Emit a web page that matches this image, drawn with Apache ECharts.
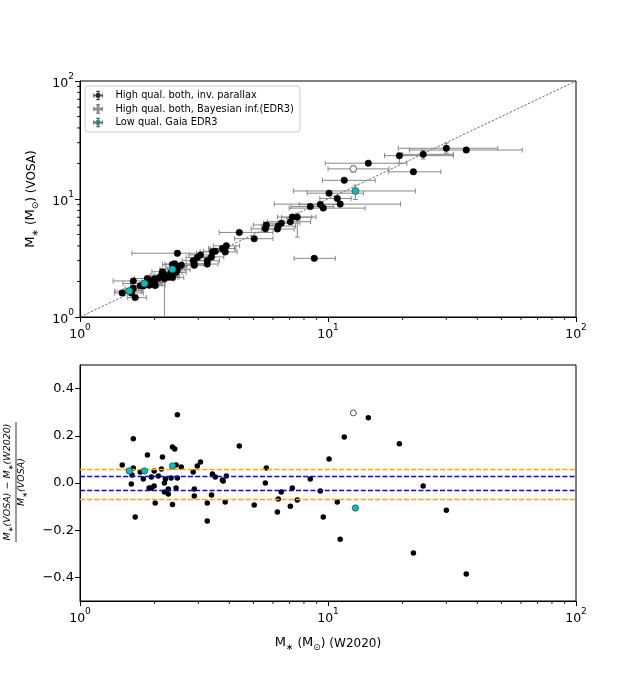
<!DOCTYPE html>
<html>
<head>
<meta charset="utf-8">
<script src="https://cdn.jsdelivr.net/npm/echarts@6/dist/echarts.min.js"></script>
<style>
html, body { margin: 0; padding: 0; background: #fff; }
#chart { width: 640px; height: 675px; }
</style>
</head>
<body>
<div id="chart"></div>
<script>
// High qual. both, inv. parallax
var hqW2020 = [1.48, 1.61, 1.62, 1.64, 1.64, 1.67, 1.75, 1.80, 1.87, 1.90,
    1.94, 1.94, 1.99, 1.99, 2.01, 2.07, 2.13, 2.15, 2.19, 2.19,
    2.21, 2.27, 2.27, 2.33, 2.36, 2.36, 2.41, 2.44, 2.44, 2.47,
    2.47, 2.56, 2.86, 2.89, 2.89, 2.97, 3.06, 3.26, 3.26, 3.39,
    3.42, 3.51, 3.75, 3.78, 3.85, 3.89, 4.39, 5.04, 5.59, 5.64,
    6.25, 6.30, 6.48, 7.05, 7.18, 7.52, 8.48, 8.80, 9.31, 9.57,
    10.1, 10.9, 11.2, 11.63, 14.54, 19.4, 22.1, 24.2, 30.0, 36.1];
var hqVOSA = [1.60, 1.60, 1.68, 2.02, 1.75, 1.46, 1.84, 1.83, 2.12, 1.86,
    1.99, 1.90, 2.10, 1.96, 1.85, 2.13, 2.26, 2.42, 2.19, 2.11,
    2.25, 2.21, 2.17, 2.38, 2.79, 2.16, 2.82, 2.64, 2.39, 3.47,
    2.52, 2.75, 3.00, 2.82, 2.74, 3.20, 3.36, 3.00, 2.81, 3.23,
    3.56, 3.60, 3.80, 3.81, 3.56, 4.01, 5.21, 4.61, 5.59, 6.03,
    5.57, 5.90, 6.24, 6.42, 7.03, 7.01, 8.63, 3.14, 9.00, 8.37,
    11.2, 10.1, 9.05, 14.4, 20.1, 23.3, 17.0, 23.9, 26.9, 26.0];
var hqRel = [0.076, -0.004, 0.034, 0.187, 0.064, -0.144, 0.047, 0.017, 0.119, -0.021,
    0.025, -0.021, 0.051, -0.013, -0.085, 0.030, 0.059, 0.110, 0.000, -0.038,
    0.017, -0.025, -0.047, 0.021, 0.153, -0.091, 0.144, 0.076, -0.021, 0.289,
    0.021, 0.068, 0.047, -0.025, -0.055, 0.072, 0.089, -0.085, -0.161, -0.051,
    0.038, 0.025, 0.013, 0.008, -0.081, 0.030, 0.157, -0.093, 0.000, 0.064,
    -0.123, -0.068, -0.038, -0.098, -0.021, -0.072, 0.017, -1.80, -0.034, -0.144,
    0.102, -0.081, -0.238, 0.195, 0.276, 0.166, -0.297, -0.013, -0.115, -0.386];
var hqXLo = [1.38, 1.45, 1.50, 1.36, 1.52, 1.55, 1.60, 1.62, 1.66, 1.74,
    1.78, 1.76, 1.82, 1.80, 1.84, 1.86, 1.92, 1.95, 1.98, 2.00,
    2.00, 2.05, 2.08, 2.10, 2.15, 2.12, 2.20, 2.22, 2.20, 1.62,
    2.25, 2.32, 2.58, 2.60, 2.55, 2.68, 2.75, 2.92, 2.95, 3.00,
    3.05, 3.15, 3.35, 3.30, 3.45, 3.45, 3.64, 4.20, 4.90, 5.00,
    5.40, 5.40, 5.50, 5.70, 6.26, 6.50, 7.10, 7.30, 7.65, 6.97,
    8.25, 9.27, 6.07, 9.50, 9.75, 16.9, 17.5, 20.0, 19.2, 21.3];
var hqXHi = [1.62, 1.80, 1.78, 1.83, 1.78, 1.85, 1.95, 2.00, 2.10, 2.08,
    2.12, 2.14, 2.18, 2.20, 2.20, 2.30, 2.36, 2.38, 2.42, 2.40,
    2.45, 2.52, 2.48, 2.58, 2.60, 2.62, 2.68, 2.70, 2.68, 2.95,
    2.78, 2.85, 3.20, 3.22, 3.25, 3.30, 3.42, 3.65, 3.60, 3.80,
    3.85, 3.95, 4.25, 4.20, 4.30, 4.40, 6.00, 6.00, 6.40, 6.40,
    7.30, 7.40, 7.70, 8.50, 8.94, 8.60, 10.5, 10.7, 11.2, 14.1,
    13.9, 12.4, 19.6, 15.5, 20.8, 32.0, 28.5, 32.0, 48.4, 60.7];
var hqYLo = [1.55, 1.55, 1.62, 1.95, 1.70, 1.41, 1.78, 1.77, 2.05, 1.80,
    1.93, 1.84, 2.03, 1.90, 1.79, 2.06, 2.19, 2.34, 0.40, 2.04,
    2.18, 2.14, 2.10, 2.30, 2.70, 2.09, 2.73, 2.55, 2.31, 3.30,
    2.44, 2.66, 2.90, 2.73, 2.65, 3.10, 3.25, 2.90, 2.72, 3.12,
    3.45, 3.48, 3.68, 3.69, 3.45, 3.88, 5.00, 4.45, 5.40, 5.83,
    5.38, 5.70, 6.03, 6.20, 6.80, 4.76, 8.35, 3.04, 8.70, 8.10,
    10.8, 9.75, 8.75, 13.9, 19.4, 20.1, 16.4, 21.8, 24.4, 25.1];
var hqYHi = [1.65, 1.65, 1.74, 2.09, 1.80, 1.51, 1.90, 1.89, 2.19, 1.92,
    2.05, 1.96, 2.17, 2.02, 1.91, 2.20, 2.33, 2.50, 2.26, 2.18,
    2.32, 2.28, 2.24, 2.46, 2.88, 2.23, 2.91, 2.73, 2.47, 3.60,
    2.60, 2.84, 3.10, 2.91, 2.83, 3.30, 3.47, 3.10, 2.90, 3.34,
    3.67, 3.72, 3.92, 3.93, 3.67, 4.14, 5.42, 4.77, 5.78, 6.23,
    5.76, 6.10, 6.45, 6.64, 7.26, 7.60, 8.91, 3.24, 9.30, 8.64,
    11.6, 10.45, 9.35, 14.9, 20.8, 24.4, 17.6, 25.9, 29.7, 26.9];

// High qual. both, Bayesian inf.(EDR3)
var bayW2020 = [12.65];
var bayVOSA = [18.0];
var bayRel = [0.297];
var bayXLo = [10.0];
var bayXHi = [17.6];
var bayYLo = [16.9];
var bayYHi = [19.0];

// Low qual. Gaia EDR3
var lqW2020 = [1.58, 1.82, 2.36, 12.9];
var lqVOSA = [1.66, 1.92, 2.54, 11.7];
var lqRel = [0.051, 0.051, 0.072, -0.106];
var lqXLo = [1.38, 1.49, 2.10, 7.25];
var lqXHi = [1.77, 2.15, 2.65, 22.5];
var lqYLo = [1.61, 1.86, 2.46, 9.9];
var lqYHi = [1.71, 1.98, 2.62, 13.1];

// reference levels in the lower panel
var orangeLevels = [0.058, -0.068];
var blueLevels = [0.033, -0.031];

var relTicks = [-0.4, -0.2, 0.0, 0.2, 0.4];
var minorLog = [2, 3, 4, 5, 6, 7, 8, 9, 20, 30, 40, 50, 60, 70, 80, 90];

var FONT = 'DejaVu Sans';
var names = ['High qual. both, inv. parallax', 'High qual. both, Bayesian inf.(EDR3)', 'Low qual. Gaia EDR3'];

function pairs(a, b) {
    return a.map(function (v, i) { return [v, b[i]]; });
}
function bars(w, v, xlo, xhi, ylo, yhi) {
    return w.map(function (x, i) { return [x, v[i], xlo[i], xhi[i], ylo[i], yhi[i]]; });
}

function renderErr(params, api) {
    var x = api.value(0), y = api.value(1);
    var p = api.coord([x, y]);
    var l = api.coord([api.value(2), y]);
    var r = api.coord([api.value(3), y]);
    var b = api.coord([x, api.value(4)]);
    var t = api.coord([x, api.value(5)]);
    var c = 2.5;
    var st = { stroke: '#888888', lineWidth: 1 };
    return {
        type: 'group',
        children: [
            { type: 'line', shape: { x1: l[0], y1: p[1], x2: r[0], y2: p[1] }, style: st },
            { type: 'line', shape: { x1: l[0], y1: p[1] - c, x2: l[0], y2: p[1] + c }, style: st },
            { type: 'line', shape: { x1: r[0], y1: p[1] - c, x2: r[0], y2: p[1] + c }, style: st },
            { type: 'line', shape: { x1: p[0], y1: b[1], x2: p[0], y2: t[1] }, style: st },
            { type: 'line', shape: { x1: p[0] - c, y1: b[1], x2: p[0] + c, y2: b[1] }, style: st },
            { type: 'line', shape: { x1: p[0] - c, y1: t[1], x2: p[0] + c, y2: t[1] }, style: st }
        ]
    };
}

function minorX(base) {
    return function (params, api) {
        var p = api.coord([api.value(0), base]);
        return { type: 'line', shape: { x1: p[0], y1: p[1], x2: p[0], y2: p[1] + 2.8 }, style: { stroke: '#000', lineWidth: 1 } };
    };
}
function minorY(base) {
    return function (params, api) {
        var p = api.coord([base, api.value(1)]);
        return { type: 'line', shape: { x1: p[0], y1: p[1], x2: p[0] - 2.8, y2: p[1] }, style: { stroke: '#000', lineWidth: 1 } };
    };
}

function errSeries(data, gi) {
    return {
        type: 'custom', xAxisIndex: gi, yAxisIndex: gi, data: data,
        renderItem: renderErr, clip: true, silent: true, z: 2,
        encode: { x: 0, y: 1 }
    };
}

var powLabel = {
    formatter: function (v) {
        return '{b|10}{s|' + Math.round(Math.log10(v)) + '}';
    },
    rich: {
        b: { fontFamily: FONT, fontSize: 12.5, color: '#000', lineHeight: 18, verticalAlign: 'bottom' },
        s: { fontFamily: FONT, fontSize: 9, color: '#000', lineHeight: 10, verticalAlign: 'top' }
    }
};

var nameRich = {
    m: { fontFamily: FONT, fontSize: 13, color: '#000', lineHeight: 16, verticalAlign: 'top' },
    u: { fontFamily: FONT, fontSize: 9, color: '#000', lineHeight: 10, verticalAlign: 'bottom' }
};

var axisCommon = {
    axisLine: { show: true, onZero: false, lineStyle: { color: '#000', width: 1 } },
    axisTick: { show: true, length: 5, lineStyle: { color: '#000', width: 1 } },
    splitLine: { show: false }
};

// marker with small error bar cross, for the legend (leading move-to keeps it off the left edge)
var errIcon = 'path://M-16,10 M4.5,10A5.5,5.5 0 1,1 15.5,10A5.5,5.5 0 1,1 4.5,10Z M0,9.3H20V10.7H0Z M9.3,0H10.7V20H9.3Z ' +
    'M0,6H1.4V14H0Z M18.6,6H20V14H18.6Z M6,0H14V1.4H6Z M6,18.6H14V20H6Z';
var legendStyles = [
    { color: '#000', borderColor: '#555', borderWidth: 0.4 },
    { color: '#fff', borderColor: '#777', borderWidth: 0.8 },
    { color: '#00bfbf', borderColor: '#555', borderWidth: 0.5 }
];

var chart = echarts.init(document.getElementById('chart'));
var option = {
    animation: false,
    textStyle: { fontFamily: FONT },
    grid: [
        { left: 80, right: 64, top: 81, height: 236, show: true, borderColor: '#000', borderWidth: 1 },
        { left: 80, right: 64, top: 365, height: 236, show: true, borderColor: '#000', borderWidth: 1 }
    ],
    legend: {
        left: 85, top: 86,
        orient: 'vertical',
        data: names.map(function (n, i) { return { name: n, icon: errIcon, itemStyle: legendStyles[i] }; }),
        itemWidth: 24, itemHeight: 9, itemGap: 2.5,
        symbolKeepAspect: true,
        padding: [4, 6, 4, 1],
        backgroundColor: 'rgba(255,255,255,0.8)',
        borderColor: '#cccccc', borderWidth: 1, borderRadius: 3,
        textStyle: { fontFamily: FONT, fontSize: 9.8, color: '#000', lineHeight: 11, padding: [0, 0, 0, 4] }
    },
    xAxis: [
        Object.assign({ gridIndex: 0, type: 'log', logBase: 10, min: 1, max: 100,
            axisLabel: Object.assign({ margin: 6 }, powLabel) }, axisCommon),
        Object.assign({ gridIndex: 1, type: 'log', logBase: 10, min: 1, max: 100,
            axisLabel: Object.assign({ margin: 6 }, powLabel),
            name: '{m|M}{u|∗} ({m|M}{u|⊙}) (W2020)', nameLocation: 'middle', nameGap: 35,
            nameTextStyle: { rich: nameRich } }, axisCommon)
    ],
    yAxis: [
        Object.assign({ gridIndex: 0, type: 'log', logBase: 10, min: 1, max: 100,
            axisLabel: Object.assign({ margin: 6 }, powLabel),
            name: '{m|M}{u|∗} ({m|M}{u|⊙}) (VOSA)', nameLocation: 'middle', nameGap: 40, nameRotate: 90,
            nameTextStyle: { rich: nameRich } }, axisCommon),
        Object.assign({ gridIndex: 1, type: 'value', min: -0.5, max: 0.5,
            axisLabel: {
                customValues: relTicks, fontFamily: FONT, fontSize: 13, color: '#000', margin: 6,
                formatter: function (v) { return v.toFixed(1).replace('-', '\u2212'); }
            },
            axisTick: { show: true, customValues: relTicks, length: 5, lineStyle: { color: '#000', width: 1 } },
            axisLine: axisCommon.axisLine, splitLine: { show: false } })
    ],
    graphic: [{
        type: 'group', x: 16, y: 482, rotation: Math.PI / 2,
        children: [
            { type: 'text', x: 0, y: -7, style: { text: '{i|M}{u|∗}{i|(VOSA) \u2212 M}{u|∗}{i|(W2020)}', align: 'center', verticalAlign: 'middle',
                rich: { i: { fontFamily: FONT, fontStyle: 'italic', fontSize: 9.5, lineHeight: 12, verticalAlign: 'top', fill: '#000' },
                        u: { fontFamily: FONT, fontSize: 7, lineHeight: 7, verticalAlign: 'bottom', fill: '#000' } } } },
            { type: 'line', shape: { x1: -60, y1: 0, x2: 60, y2: 0 }, style: { stroke: '#000', lineWidth: 0.8 } },
            { type: 'text', x: 0, y: 7, style: { text: '{i|M}{u|∗}{i|(VOSA)}', align: 'center', verticalAlign: 'middle',
                rich: { i: { fontFamily: FONT, fontStyle: 'italic', fontSize: 9.5, lineHeight: 12, verticalAlign: 'top', fill: '#000' },
                        u: { fontFamily: FONT, fontSize: 7, lineHeight: 7, verticalAlign: 'bottom', fill: '#000' } } } }
        ]
    }],
    series: [
        // upper panel
        {
            type: 'line', xAxisIndex: 0, yAxisIndex: 0, data: [[1, 1], [100, 100]],
            symbol: 'none', silent: true, z: 1,
            lineStyle: { color: '#333', width: 0.7, type: [2.5, 1.5] }
        },
        errSeries(bars(hqW2020, hqVOSA, hqXLo, hqXHi, hqYLo, hqYHi), 0),
        {
            name: names[0], type: 'scatter', xAxisIndex: 0, yAxisIndex: 0, z: 3,
            data: pairs(hqW2020, hqVOSA), symbolSize: 6.5,
            itemStyle: { color: '#000', borderColor: '#000', borderWidth: 0.5, opacity: 1 }
        },
        errSeries(bars(bayW2020, bayVOSA, bayXLo, bayXHi, bayYLo, bayYHi), 0),
        {
            name: names[1], type: 'scatter', xAxisIndex: 0, yAxisIndex: 0, z: 4,
            data: pairs(bayW2020, bayVOSA), symbolSize: 6.5,
            itemStyle: { color: '#fff', borderColor: '#666', borderWidth: 1, opacity: 1 }
        },
        errSeries(bars(lqW2020, lqVOSA, lqXLo, lqXHi, lqYLo, lqYHi), 0),
        {
            name: names[2], type: 'scatter', xAxisIndex: 0, yAxisIndex: 0, z: 5,
            data: pairs(lqW2020, lqVOSA), symbolSize: 7,
            itemStyle: { color: '#00bfbf', borderColor: '#333', borderWidth: 0.6, opacity: 1 }
        },
        {
            type: 'custom', xAxisIndex: 0, yAxisIndex: 0, silent: true, clip: false, z: 6,
            data: minorLog.map(function (v) { return [v, 1]; }), renderItem: minorX(1), encode: { x: 0, y: 1 }
        },
        {
            type: 'custom', xAxisIndex: 0, yAxisIndex: 0, silent: true, clip: false, z: 6,
            data: minorLog.map(function (v) { return [1, v]; }), renderItem: minorY(1), encode: { x: 0, y: 1 }
        },
        // lower panel
        {
            type: 'scatter', xAxisIndex: 1, yAxisIndex: 1, z: 3, clip: true,
            data: pairs(hqW2020, hqRel), symbolSize: 5.5,
            itemStyle: { color: '#000', opacity: 1 },
            markLine: {
                silent: true, symbol: 'none', label: { show: false }, animation: false,
                data: orangeLevels.map(function (v) { return { yAxis: v, lineStyle: { color: '#ffa500' } }; })
                    .concat(blueLevels.map(function (v) { return { yAxis: v, lineStyle: { color: '#0000ff' } }; })),
                lineStyle: { width: 1.3, type: [5, 2.2] }
            }
        },
        {
            type: 'scatter', xAxisIndex: 1, yAxisIndex: 1, z: 4, clip: true,
            data: pairs(bayW2020, bayRel), symbolSize: 6,
            itemStyle: { color: '#fff', borderColor: '#555', borderWidth: 1, opacity: 1 }
        },
        {
            type: 'scatter', xAxisIndex: 1, yAxisIndex: 1, z: 5, clip: true,
            data: pairs(lqW2020, lqRel), symbolSize: 6.5,
            itemStyle: { color: '#00bfbf', borderColor: '#333', borderWidth: 0.6, opacity: 1 }
        },
        {
            type: 'custom', xAxisIndex: 1, yAxisIndex: 1, silent: true, clip: false, z: 6,
            data: minorLog.map(function (v) { return [v, -0.5]; }), renderItem: minorX(-0.5), encode: { x: 0, y: 1 }
        }
    ]
};
chart.setOption(option);
</script>
</body>
</html>
